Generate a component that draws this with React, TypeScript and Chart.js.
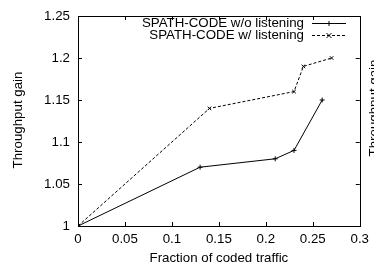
import React, { useEffect, useRef } from "react";
import { Chart, registerables } from "chart.js";

Chart.register(...registerables);

const seriesNames = ["SPATH-CODE w/o listening", "SPATH-CODE w/ listening"];
const woX = [0, 0.13, 0.21, 0.23, 0.26];
const woY = [1, 1.07, 1.08, 1.09, 1.15];
const wX = [0, 0.14, 0.23, 0.24, 0.27];
const wY = [1, 1.14, 1.16, 1.19, 1.2];
const xTickLabels = ["0", "0.05", "0.1", "0.15", "0.2", "0.25", "0.3"];
const yTickLabels = ["1", "1.05", "1.1", "1.15", "1.2", "1.25"];
const xTitle = "Fraction of coded traffic";
const yTitle = "Throughput gain";

const FONT = "'Liberation Sans', Arial, Helvetica, sans-serif";
const FS = 13.3;

const gnuplotPlugin = {
  id: "gnuplotDecor",
  afterDraw(chart: any) {
    const { ctx, chartArea: a, scales } = chart;
    const xs = scales.x;
    const ys = scales.y;
    ctx.save();
    ctx.strokeStyle = "#000";
    ctx.lineWidth = 1;
    ctx.strokeRect(Math.round(a.left) + 0.5, Math.round(a.top) + 0.5, Math.round(a.right - a.left), Math.round(a.bottom - a.top));
    const tl = 4;
    ctx.beginPath();
    xs.ticks.forEach((t: any) => {
      const px = Math.round(xs.getPixelForValue(t.value)) + 0.5;
      ctx.moveTo(px, a.bottom);
      ctx.lineTo(px, a.bottom - tl);
      ctx.moveTo(px, a.top);
      ctx.lineTo(px, a.top + tl);
    });
    ys.ticks.forEach((t: any) => {
      const py = Math.round(ys.getPixelForValue(t.value)) + 0.5;
      ctx.moveTo(a.left, py);
      ctx.lineTo(a.left + tl, py);
      ctx.moveTo(a.right, py);
      ctx.lineTo(a.right - tl, py);
    });
    ctx.stroke();

    ctx.fillStyle = "#000";
    ctx.font = `${FS}px ${FONT}`;
    ctx.textAlign = "center";
    ctx.textBaseline = "middle";
    ctx.fillText(xTitle, (a.left + a.right) / 2, 258);
    ctx.save();
    ctx.translate(18, 120);
    ctx.rotate(-Math.PI / 2);
    ctx.fillText(yTitle, 0, 0);
    ctx.restore();
    ctx.save();
    ctx.translate(374.5, 108);
    ctx.rotate(-Math.PI / 2);
    ctx.fillText(yTitle, 0, 0);
    ctx.restore();

    const rows = [
      { y: 23, dash: [], style: "cross", r: 2.5 },
      { y: 35, dash: [3, 2], style: "crossRot", r: 2.5 },
    ];
    rows.forEach((row, i) => {
      ctx.textAlign = "right";
      ctx.textBaseline = "middle";
      ctx.fillText(seriesNames[i], 304, row.y);
      ctx.beginPath();
      ctx.setLineDash(row.dash);
      ctx.moveTo(312, row.y + 0.5);
      ctx.lineTo(346, row.y + 0.5);
      ctx.stroke();
      ctx.setLineDash([]);
      ctx.beginPath();
      const cx = 329, cy = row.y + 0.5, r = row.r;
      if (row.style === "cross") {
        ctx.moveTo(cx - r, cy); ctx.lineTo(cx + r, cy);
        ctx.moveTo(cx, cy - r); ctx.lineTo(cx, cy + r);
      } else {
        ctx.moveTo(cx - r, cy - r); ctx.lineTo(cx + r, cy + r);
        ctx.moveTo(cx - r, cy + r); ctx.lineTo(cx + r, cy - r);
      }
      ctx.stroke();
    });
    ctx.restore();
  },
};

export default function App() {
  const ref = useRef<HTMLCanvasElement>(null);
  useEffect(() => {
    if (!ref.current) return;
    const chart = new Chart(ref.current, {
      type: "line",
      data: {
        datasets: [
          {
            label: seriesNames[0],
            data: woX.map((x, i) => ({ x, y: woY[i] })),
            borderColor: "#000",
            backgroundColor: "#000",
            borderWidth: 1,
            pointStyle: "cross",
            pointRadius: 2.5,
            pointBorderWidth: 1,
            tension: 0,
          },
          {
            label: seriesNames[1],
            data: wX.map((x, i) => ({ x, y: wY[i] })),
            borderColor: "#000",
            backgroundColor: "#000",
            borderWidth: 1,
            borderDash: [3, 2],
            pointStyle: "crossRot",
            pointRadius: 2.5,
            pointBorderWidth: 1,
            tension: 0,
          },
        ],
      },
      options: {
        responsive: false,
        animation: false,
        devicePixelRatio: 1,
        layout: { padding: { left: 0, top: 13, right: 11, bottom: 0 } },
        plugins: { legend: { display: false }, tooltip: { enabled: false } },
        scales: {
          x: {
            type: "linear",
            min: 0,
            max: 0.3,
            grid: { display: false, drawTicks: false },
            border: { display: false },
            afterFit: (s: any) => { s.height = 43; },
            ticks: {
              stepSize: 0.05,
              padding: 5,
              color: "#000",
              font: { family: FONT, size: FS },
              maxRotation: 0,
              autoSkip: false,
              callback: (_v: any, i: number) => xTickLabels[i],
            },
          },
          y: {
            type: "linear",
            min: 1,
            max: 1.25,
            grid: { display: false, drawTicks: false },
            border: { display: false },
            afterFit: (s: any) => { s.width = 78; },
            ticks: {
              stepSize: 0.05,
              padding: 8,
              color: "#000",
              font: { family: FONT, size: FS },
              autoSkip: false,
              callback: (_v: any, i: number) => yTickLabels[i],
            },
          },
        },
      },
      plugins: [gnuplotPlugin],
    } as any);
    return () => chart.destroy();
  }, []);
  return (
    <div style={{ position: "fixed", left: 0, top: 0, width: 374, height: 269, background: "#fff" }}>
      <canvas ref={ref} width={374} height={269} style={{ display: "block", width: 374, height: 269 }} />
    </div>
  );
}
